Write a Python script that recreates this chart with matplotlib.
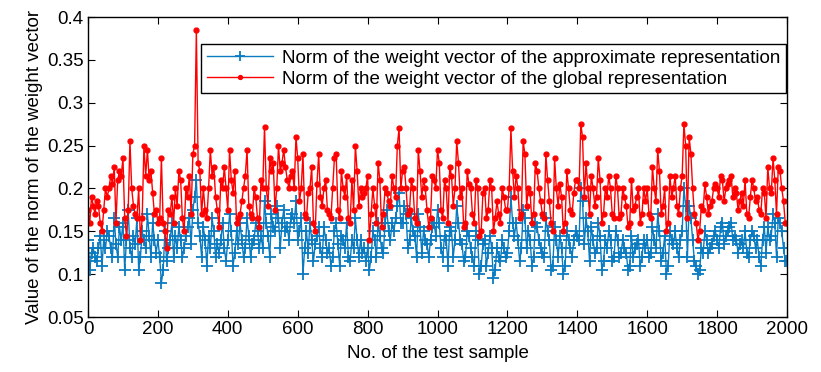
import matplotlib
matplotlib.use("Agg")
import matplotlib.pyplot as plt

plt.rcParams['font.family'] = ['Liberation Sans', 'DejaVu Sans']

sample_step = 5
sample_index = list(range(0, 2001, sample_step))

global_norm = [
    0.175, 0.16, 0.19, 0.18, 0.17, 0.185, 0.18, 0.16, 0.15, 0.175, 0.2, 0.19, 0.2, 0.215, 0.205, 0.225, 0.16, 0.21, 0.22, 0.215,
    0.235, 0.165, 0.145, 0.175, 0.255, 0.2, 0.18, 0.17, 0.165, 0.2, 0.14, 0.165, 0.25, 0.215, 0.245, 0.21, 0.22, 0.195, 0.17, 0.175,
    0.16, 0.165, 0.235, 0.16, 0.15, 0.13, 0.175, 0.17, 0.19, 0.16, 0.2, 0.18, 0.22, 0.21, 0.165, 0.15, 0.2, 0.19, 0.215, 0.17,
    0.24, 0.25, 0.385, 0.23, 0.22, 0.17, 0.2, 0.175, 0.165, 0.2, 0.245, 0.215, 0.225, 0.19, 0.175, 0.155, 0.21, 0.2, 0.225, 0.2,
    0.175, 0.245, 0.21, 0.195, 0.22, 0.16, 0.165, 0.17, 0.185, 0.2, 0.215, 0.245, 0.18, 0.17, 0.165, 0.2, 0.19, 0.165, 0.155, 0.21,
    0.2, 0.272, 0.2, 0.18, 0.235, 0.22, 0.23, 0.175, 0.2, 0.25, 0.22, 0.23, 0.245, 0.225, 0.21, 0.2, 0.215, 0.22, 0.2, 0.26,
    0.235, 0.185, 0.2, 0.24, 0.17, 0.165, 0.195, 0.2, 0.225, 0.16, 0.15, 0.205, 0.24, 0.19, 0.18, 0.2, 0.21, 0.175, 0.17, 0.165,
    0.2, 0.235, 0.24, 0.175, 0.165, 0.22, 0.2, 0.19, 0.215, 0.165, 0.16, 0.21, 0.175, 0.25, 0.22, 0.18, 0.2, 0.19, 0.195, 0.2,
    0.215, 0.14, 0.17, 0.2, 0.18, 0.16, 0.23, 0.21, 0.155, 0.17, 0.2, 0.195, 0.185, 0.18, 0.215, 0.2, 0.19, 0.25, 0.27, 0.2,
    0.22, 0.225, 0.2, 0.17, 0.175, 0.21, 0.2, 0.165, 0.16, 0.245, 0.22, 0.19, 0.21, 0.2, 0.175, 0.155, 0.165, 0.215, 0.21, 0.2,
    0.245, 0.23, 0.175, 0.165, 0.21, 0.2, 0.16, 0.225, 0.215, 0.18, 0.2, 0.255, 0.23, 0.19, 0.2, 0.155, 0.16, 0.22, 0.205, 0.2,
    0.17, 0.16, 0.21, 0.2, 0.145, 0.15, 0.195, 0.2, 0.165, 0.175, 0.21, 0.2, 0.15, 0.165, 0.185, 0.17, 0.16, 0.2, 0.19, 0.175,
    0.175, 0.2, 0.27, 0.22, 0.19, 0.215, 0.2, 0.165, 0.17, 0.255, 0.24, 0.18, 0.2, 0.195, 0.16, 0.17, 0.23, 0.22, 0.2, 0.185,
    0.17, 0.165, 0.24, 0.21, 0.185, 0.16, 0.15, 0.235, 0.2, 0.18, 0.205, 0.19, 0.15, 0.16, 0.22, 0.2, 0.175, 0.17, 0.195, 0.21,
    0.21, 0.2, 0.275, 0.26, 0.19, 0.23, 0.2, 0.17, 0.215, 0.2, 0.18, 0.19, 0.235, 0.21, 0.16, 0.17, 0.2, 0.19, 0.215, 0.2,
    0.17, 0.165, 0.215, 0.2, 0.165, 0.17, 0.2, 0.19, 0.18, 0.155, 0.16, 0.21, 0.175, 0.18, 0.19, 0.2, 0.16, 0.17, 0.2, 0.185,
    0.2, 0.17, 0.165, 0.225, 0.2, 0.185, 0.245, 0.22, 0.17, 0.18, 0.2, 0.15, 0.16, 0.215, 0.19, 0.2, 0.215, 0.18, 0.17, 0.2,
    0.215, 0.275, 0.25, 0.165, 0.26, 0.24, 0.2, 0.17, 0.16, 0.14, 0.15, 0.18, 0.175, 0.205, 0.19, 0.17, 0.18, 0.185, 0.2, 0.205,
    0.2, 0.19, 0.215, 0.21, 0.185, 0.2, 0.205, 0.21, 0.215, 0.19, 0.2, 0.195, 0.175, 0.185, 0.195, 0.18, 0.21, 0.17, 0.165, 0.19,
    0.21, 0.2, 0.185, 0.19, 0.175, 0.17, 0.2, 0.195, 0.165, 0.225, 0.2, 0.195, 0.235, 0.21, 0.17, 0.225, 0.22, 0.2, 0.185, 0.16,
    0.16,
]

approx_norm = [
    0.14, 0.105, 0.125, 0.13, 0.12, 0.115, 0.13, 0.145, 0.11, 0.14, 0.13, 0.15, 0.145, 0.13, 0.12, 0.165, 0.135, 0.12, 0.155, 0.14,
    0.16, 0.105, 0.14, 0.175, 0.13, 0.12, 0.145, 0.135, 0.165, 0.105, 0.12, 0.15, 0.14, 0.13, 0.17, 0.145, 0.12, 0.16, 0.14, 0.125,
    0.14, 0.12, 0.09, 0.105, 0.15, 0.115, 0.13, 0.14, 0.16, 0.12, 0.145, 0.13, 0.155, 0.14, 0.12, 0.13, 0.145, 0.155, 0.165, 0.135,
    0.175, 0.19, 0.21, 0.16, 0.145, 0.12, 0.155, 0.14, 0.11, 0.145, 0.13, 0.165, 0.15, 0.12, 0.135, 0.125, 0.14, 0.16, 0.13, 0.115,
    0.14, 0.17, 0.15, 0.11, 0.125, 0.15, 0.135, 0.16, 0.14, 0.12, 0.13, 0.165, 0.145, 0.12, 0.135, 0.14, 0.16, 0.15, 0.13, 0.145,
    0.13, 0.185, 0.16, 0.145, 0.12, 0.17, 0.155, 0.15, 0.18, 0.165, 0.13, 0.16, 0.175, 0.15, 0.155, 0.14, 0.165, 0.17, 0.16, 0.185,
    0.14, 0.15, 0.165, 0.1, 0.13, 0.15, 0.125, 0.16, 0.14, 0.115, 0.135, 0.145, 0.155, 0.13, 0.12, 0.155, 0.14, 0.125, 0.13, 0.11,
    0.12, 0.15, 0.16, 0.135, 0.11, 0.145, 0.14, 0.13, 0.16, 0.12, 0.115, 0.14, 0.13, 0.165, 0.14, 0.12, 0.14, 0.125, 0.13, 0.115,
    0.13, 0.105, 0.12, 0.15, 0.14, 0.12, 0.16, 0.145, 0.13, 0.125, 0.16, 0.175, 0.15, 0.14, 0.16, 0.15, 0.165, 0.18, 0.195, 0.16,
    0.16, 0.18, 0.17, 0.13, 0.14, 0.165, 0.15, 0.145, 0.12, 0.17, 0.155, 0.125, 0.15, 0.14, 0.135, 0.12, 0.14, 0.155, 0.16, 0.145,
    0.175, 0.16, 0.13, 0.12, 0.145, 0.14, 0.11, 0.155, 0.15, 0.12, 0.14, 0.18, 0.16, 0.14, 0.135, 0.115, 0.12, 0.15, 0.145, 0.13,
    0.12, 0.11, 0.15, 0.14, 0.1, 0.11, 0.135, 0.14, 0.11, 0.125, 0.145, 0.13, 0.095, 0.105, 0.13, 0.12, 0.115, 0.14, 0.13, 0.12,
    0.125, 0.15, 0.19, 0.16, 0.145, 0.16, 0.14, 0.115, 0.13, 0.175, 0.165, 0.13, 0.15, 0.14, 0.11, 0.12, 0.16, 0.155, 0.14, 0.13,
    0.125, 0.12, 0.165, 0.15, 0.14, 0.105, 0.11, 0.155, 0.14, 0.12, 0.145, 0.13, 0.1, 0.11, 0.15, 0.14, 0.13, 0.12, 0.14, 0.15,
    0.145, 0.14, 0.2, 0.185, 0.135, 0.165, 0.15, 0.115, 0.155, 0.14, 0.125, 0.13, 0.16, 0.145, 0.105, 0.115, 0.14, 0.13, 0.15, 0.14,
    0.115, 0.12, 0.15, 0.14, 0.12, 0.125, 0.14, 0.13, 0.125, 0.105, 0.11, 0.145, 0.12, 0.13, 0.135, 0.14, 0.11, 0.12, 0.14, 0.13,
    0.14, 0.12, 0.125, 0.155, 0.14, 0.13, 0.17, 0.15, 0.115, 0.125, 0.145, 0.1, 0.11, 0.15, 0.14, 0.135, 0.15, 0.13, 0.12, 0.14,
    0.15, 0.2, 0.18, 0.12, 0.18, 0.165, 0.14, 0.115, 0.11, 0.1, 0.105, 0.13, 0.125, 0.15, 0.14, 0.125, 0.13, 0.135, 0.145, 0.15,
    0.14, 0.13, 0.155, 0.16, 0.135, 0.145, 0.15, 0.155, 0.16, 0.14, 0.145, 0.14, 0.125, 0.135, 0.14, 0.13, 0.15, 0.125, 0.12, 0.14,
    0.15, 0.145, 0.13, 0.14, 0.12, 0.11, 0.14, 0.155, 0.125, 0.155, 0.14, 0.145, 0.17, 0.16, 0.12, 0.165, 0.16, 0.15, 0.13, 0.115,
    0.115,
]

x_ticks = list(range(0, 2001, 200))
y_ticks = [0.05, 0.1, 0.15, 0.2, 0.25, 0.3, 0.35, 0.4]
y_tick_labels = ["0.05", "0.1", "0.15", "0.2", "0.25", "0.3", "0.35", "0.4"]

label_approx = "Norm of the weight vector of the approximate representation"
label_global = "Norm of the weight vector of the global representation"

FS = 13.5

fig = plt.figure(figsize=(8.21, 3.72), dpi=100)
ax = fig.add_axes([0.1072, 0.1478, 0.8514, 0.8065])

ax.plot(sample_index, approx_norm, color='#0a7bc0', lw=1.0, marker='+',
        ms=9, mew=1.3, label=label_approx)
ax.plot(sample_index, global_norm, color='#ff0000', lw=1.0, marker='.',
        ms=7, label=label_global)

ax.set_xlim(0, 2000)
ax.set_ylim(0.05, 0.4)
ax.set_xticks(x_ticks)
ax.set_yticks(y_ticks)
ax.set_yticklabels(y_tick_labels)
ax.tick_params(direction='in', top=True, right=True, labelsize=FS, length=5, pad=3)
for s in ax.spines.values():
    s.set_linewidth(1.0)

ax.set_xlabel("No. of the test sample", fontsize=FS, labelpad=5)
ax.set_ylabel("Value of the norm of the weight vector", fontsize=FS, labelpad=3)

leg = ax.legend(loc='upper right', bbox_to_anchor=(0.9986, 0.91),
                borderaxespad=0, fontsize=FS, fancybox=False,
                framealpha=1, edgecolor='black', handlelength=3.5,
                labelspacing=0.2, borderpad=0.3, handletextpad=0.5,
                markerscale=0.8)
leg.get_frame().set_linewidth(1.0)

fig.savefig("out.png", dpi=100)
